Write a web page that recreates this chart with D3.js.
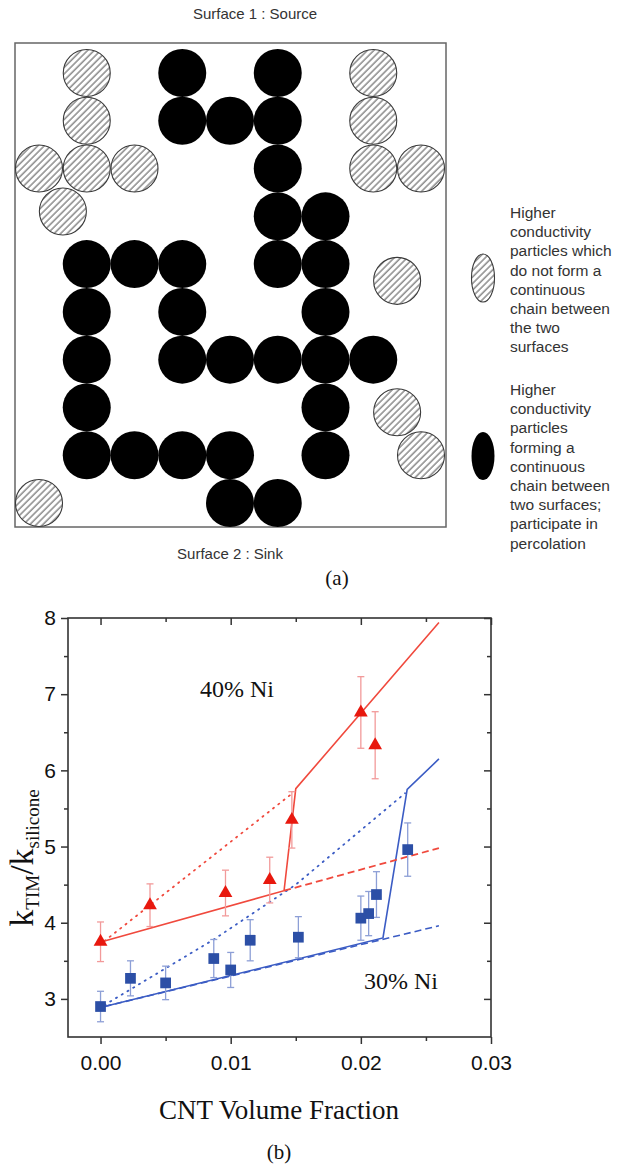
<!DOCTYPE html>
<html>
<head>
<meta charset="utf-8">
<script src="https://cdn.jsdelivr.net/npm/d3@7"></script>
<style>
  html, body { margin: 0; padding: 0; background: #fff; }
  svg { display: block; }
</style>
</head>
<body>
<script>
// ---------- Data: panel (a) particle grid (column, row) ----------
const blackParticles = [
  [3,0],[5,0],
  [3,1],[4,1],[5,1],
  [5,2],
  [5,3],[6,3],
  [1,4],[2,4],[3,4],[5,4],[6,4],
  [1,5],[3,5],[6,5],
  [1,6],[3,6],[4,6],[5,6],[6,6],[7,6],
  [1,7],[6,7],
  [1,8],[2,8],[3,8],[4,8],[6,8],
  [4,9],[5,9]
];
const hatchedParticles = [
  [1,0],[1,1],[0,2],[1,2],[2,2],[0.5,2.9],
  [7,0],[7,1],[7,2],[8,2],
  [7.5,4.35],[7.5,7.1],[8,8],[0,9]
];
const legendHatched = ["Higher","conductivity","particles which","do not form a","continuous","chain between","the two","surfaces"];
const legendBlack = ["Higher","conductivity","particles","forming a","continuous","chain between","two surfaces;","participate in","percolation"];

// ---------- Data: panel (b) ----------
const xTicks = [0, 0.01, 0.02, 0.03];
const xMinorTicks = [0.005, 0.015, 0.025];
const yTicks = [3, 4, 5, 6, 7, 8];
const yMinorTicks = [3.5, 4.5, 5.5, 6.5, 7.5];

// 40% Ni (red triangles): CNT fraction, k ratio, error
const ni40X   = [0.0000, 0.0038, 0.0096, 0.0130, 0.0147, 0.0200, 0.0211];
const ni40Y   = [3.75,   4.23,   4.39,   4.56,   5.35,   6.76,   6.33];
const ni40Err = [0.26,   0.28,   0.30,   0.30,   0.37,   0.47,   0.44];

// 30% Ni (blue squares)
const ni30X   = [0.0000, 0.0023, 0.0050, 0.0087, 0.0100, 0.0115, 0.0152, 0.0200, 0.0206, 0.0212, 0.0236];
const ni30Y   = [2.90,   3.27,   3.21,   3.53,   3.38,   3.77,   3.81,   4.06,   4.12,   4.37,   4.96];
const ni30Err = [0.20,   0.23,   0.22,   0.25,   0.23,   0.27,   0.27,   0.29,   0.29,   0.30,   0.35];

// model curves
const redSolid   = [[0.0003,3.76],[0.0141,4.42],[0.0150,5.76],[0.0260,7.94]];
const redDashed  = [[0.0141,4.42],[0.0260,4.98]];
const redDotted  = [[0.0003,3.76],[0.0146,5.68]];
const blueSolid  = [[0.0003,2.90],[0.0217,3.80],[0.02356,5.75],[0.0260,6.15]];
const blueDashed = [[0.0003,2.90],[0.0260,3.96]];
const blueDotted = [[0.0003,2.92],[0.0087,3.78],[0.0150,4.50],[0.0234,5.70]];

// ---------- Drawing ----------
const W = 628, H = 1165;
const svg = d3.select("body").append("svg").attr("width", W).attr("height", H);
const defs = svg.append("defs");
defs.append("pattern")
  .attr("id", "hatch")
  .attr("patternUnits", "userSpaceOnUse")
  .attr("width", 4.6).attr("height", 4.6)
  .attr("patternTransform", "rotate(45)")
  .append("line")
  .attr("x1", 1).attr("y1", 0).attr("x2", 1).attr("y2", 4.6)
  .attr("stroke", "#3a3a3a").attr("stroke-width", 0.9);

const sans = "'Liberation Sans', Arial, sans-serif";
const serif = "'Liberation Serif', 'Times New Roman', serif";

// ----- Panel (a) -----
const gx = d3.scaleLinear().domain([0, 8]).range([39, 421]);
const gy = d3.scaleLinear().domain([0, 9]).range([73, 503]);
const R = 24;

svg.append("text").attr("x", 255).attr("y", 19).attr("text-anchor", "middle")
  .attr("font-family", sans).attr("font-size", 15).attr("fill", "#333")
  .text("Surface 1 : Source");

svg.append("rect").attr("x", 15).attr("y", 43).attr("width", 431).attr("height", 484)
  .attr("fill", "#fff").attr("stroke", "#666").attr("stroke-width", 1.5);

svg.append("g").selectAll("circle").data(hatchedParticles).join("circle")
  .attr("cx", d => gx(d[0])).attr("cy", d => gy(d[1])).attr("r", R - 0.5)
  .attr("fill", "url(#hatch)").attr("stroke", "#3a3a3a").attr("stroke-width", 1.1);

svg.append("g").selectAll("circle").data(blackParticles).join("circle")
  .attr("cx", d => gx(d[0])).attr("cy", d => gy(d[1])).attr("r", R)
  .attr("fill", "#000");

svg.append("text").attr("x", 230).attr("y", 559).attr("text-anchor", "middle")
  .attr("font-family", sans).attr("font-size", 15).attr("fill", "#333")
  .text("Surface 2 : Sink");

svg.append("text").attr("x", 337).attr("y", 585).attr("text-anchor", "middle")
  .attr("font-family", serif).attr("font-size", 21).attr("fill", "#111")
  .text("(a)");

// legend
svg.append("ellipse").attr("cx", 483).attr("cy", 278).attr("rx", 11.5).attr("ry", 24)
  .attr("fill", "url(#hatch)").attr("stroke", "#3a3a3a").attr("stroke-width", 1.1);
svg.append("ellipse").attr("cx", 483).attr("cy", 456).attr("rx", 11.5).attr("ry", 24)
  .attr("fill", "#000");

const lt1 = svg.append("text").attr("font-family", sans).attr("font-size", 15.5).attr("fill", "#333");
legendHatched.forEach((s, i) => lt1.append("tspan").attr("x", 510).attr("y", 218 + i * 19.2).text(s));
const lt2 = svg.append("text").attr("font-family", sans).attr("font-size", 15.5).attr("fill", "#333");
legendBlack.forEach((s, i) => lt2.append("tspan").attr("x", 510).attr("y", 395 + i * 19.2).text(s));

// ----- Panel (b) -----
const pLeft = 68, pRight = 491, pTop = 618, pBottom = 1037;
const x = d3.scaleLinear().domain([-0.0025, 0.03]).range([pLeft, pRight]);
const y = d3.scaleLinear().domain([2.5, 8]).range([pBottom, pTop]);

const axisColor = "#333";
function styleAxis(g) {
  g.select(".domain").remove();
  g.selectAll(".tick line").attr("stroke", axisColor).attr("stroke-width", 1.5);
  g.selectAll(".tick text").attr("font-family", sans).attr("font-size", 21).attr("fill", "#111");
}

svg.append("g").attr("transform", `translate(0,${pBottom})`)
  .call(d3.axisBottom(x).tickValues(xTicks).tickSize(7).tickPadding(11).tickFormat(d3.format(".2f"))).call(styleAxis);
svg.append("g").attr("transform", `translate(0,${pBottom})`)
  .call(d3.axisBottom(x).tickValues(xMinorTicks).tickSize(4).tickFormat("")).call(styleAxis);
svg.append("g").attr("transform", `translate(0,${pTop})`)
  .call(d3.axisTop(x).tickValues(xTicks).tickSize(-7).tickFormat("")).call(styleAxis);
svg.append("g").attr("transform", `translate(0,${pTop})`)
  .call(d3.axisTop(x).tickValues(xMinorTicks).tickSize(-4).tickFormat("")).call(styleAxis);
svg.append("g").attr("transform", `translate(${pLeft},0)`)
  .call(d3.axisLeft(y).tickValues(yTicks).tickSize(7).tickPadding(5).tickFormat(d3.format("d"))).call(styleAxis);
svg.append("g").attr("transform", `translate(${pLeft},0)`)
  .call(d3.axisLeft(y).tickValues(yMinorTicks).tickSize(4).tickFormat("")).call(styleAxis);
svg.append("g").attr("transform", `translate(${pRight},0)`)
  .call(d3.axisRight(y).tickValues(yTicks).tickSize(-7).tickFormat("")).call(styleAxis);
svg.append("g").attr("transform", `translate(${pRight},0)`)
  .call(d3.axisRight(y).tickValues(yMinorTicks).tickSize(-4).tickFormat("")).call(styleAxis);

svg.append("rect").attr("x", pLeft).attr("y", pTop).attr("width", pRight - pLeft).attr("height", pBottom - pTop)
  .attr("fill", "none").attr("stroke", axisColor).attr("stroke-width", 1.6);

const line = d3.line().x(d => x(d[0])).y(d => y(d[1]));

const RED_LINE = "#f0493d", RED_ERR = "#f29a9a";
const BLUE = "#2c4fa6", BLUE_LINE = "#3b5cc4", BLUE_ERR = "#8d9fd6";

const plot = svg.append("g");
plot.append("path").attr("d", line(blueDashed)).attr("fill", "none").attr("stroke", BLUE_LINE)
  .attr("stroke-width", 1.6).attr("stroke-dasharray", "7,4");
plot.append("path").attr("d", line(blueSolid)).attr("fill", "none").attr("stroke", BLUE_LINE).attr("stroke-width", 1.6);
plot.append("path").attr("d", line(blueDotted)).attr("fill", "none").attr("stroke", BLUE_LINE)
  .attr("stroke-width", 1.8).attr("stroke-dasharray", "1.2,5.5").attr("stroke-linecap", "round");
plot.append("path").attr("d", line(redDashed)).attr("fill", "none").attr("stroke", RED_LINE)
  .attr("stroke-width", 1.8).attr("stroke-dasharray", "7,4");
plot.append("path").attr("d", line(redSolid)).attr("fill", "none").attr("stroke", RED_LINE).attr("stroke-width", 1.6);
plot.append("path").attr("d", line(redDotted)).attr("fill", "none").attr("stroke", RED_LINE)
  .attr("stroke-width", 1.8).attr("stroke-dasharray", "1.2,5.5").attr("stroke-linecap", "round");

function errorBars(xs, ys, es, color) {
  const g = plot.append("g").attr("stroke", color).attr("stroke-width", 1.3);
  const idx = d3.range(xs.length);
  g.selectAll(".v").data(idx).join("line")
    .attr("x1", i => x(xs[i])).attr("x2", i => x(xs[i]))
    .attr("y1", i => y(ys[i] - es[i])).attr("y2", i => y(ys[i] + es[i]));
  g.selectAll(".t").data(idx).join("line")
    .attr("x1", i => x(xs[i]) - 3.5).attr("x2", i => x(xs[i]) + 3.5)
    .attr("y1", i => y(ys[i] + es[i])).attr("y2", i => y(ys[i] + es[i]));
  g.selectAll(".b").data(idx).join("line")
    .attr("x1", i => x(xs[i]) - 3.5).attr("x2", i => x(xs[i]) + 3.5)
    .attr("y1", i => y(ys[i] - es[i])).attr("y2", i => y(ys[i] - es[i]));
}
errorBars(ni40X, ni40Y, ni40Err, RED_ERR);
errorBars(ni30X, ni30Y, ni30Err, BLUE_ERR);

plot.append("g").selectAll("path").data(d3.range(ni40X.length)).join("path")
  .attr("transform", i => `translate(${x(ni40X[i])},${y(ni40Y[i])})`)
  .attr("d", d3.symbol(d3.symbolTriangle, 82)).attr("fill", "#e8180e");
plot.append("g").selectAll("path").data(d3.range(ni30X.length)).join("path")
  .attr("transform", i => `translate(${x(ni30X[i])},${y(ni30Y[i])})`)
  .attr("d", d3.symbol(d3.symbolSquare, 115)).attr("fill", BLUE);

svg.append("text").attr("x", 237).attr("y", 697).attr("text-anchor", "middle")
  .attr("font-family", serif).attr("font-size", 24).attr("fill", "#111").text("40% Ni");
svg.append("text").attr("x", 401).attr("y", 989).attr("text-anchor", "middle")
  .attr("font-family", serif).attr("font-size", 24).attr("fill", "#111").text("30% Ni");

// axis titles
svg.append("text").attr("x", 279).attr("y", 1119).attr("text-anchor", "middle")
  .attr("font-family", serif).attr("font-size", 27).attr("fill", "#111").text("CNT Volume Fraction");

const yt = svg.append("text").attr("transform", "translate(33,858) rotate(-90)")
  .attr("text-anchor", "middle").attr("font-family", serif).attr("fill", "#111");
yt.append("tspan").attr("font-size", 34).text("k");
yt.append("tspan").attr("font-size", 19).attr("dy", 6).text("TIM");
yt.append("tspan").attr("font-size", 34).attr("dy", -6).text("/k");
yt.append("tspan").attr("font-size", 19).attr("dy", 6).text("silicone");

svg.append("text").attr("x", 279).attr("y", 1159).attr("text-anchor", "middle")
  .attr("font-family", serif).attr("font-size", 21).attr("fill", "#111").text("(b)");
</script>
</body>
</html>
